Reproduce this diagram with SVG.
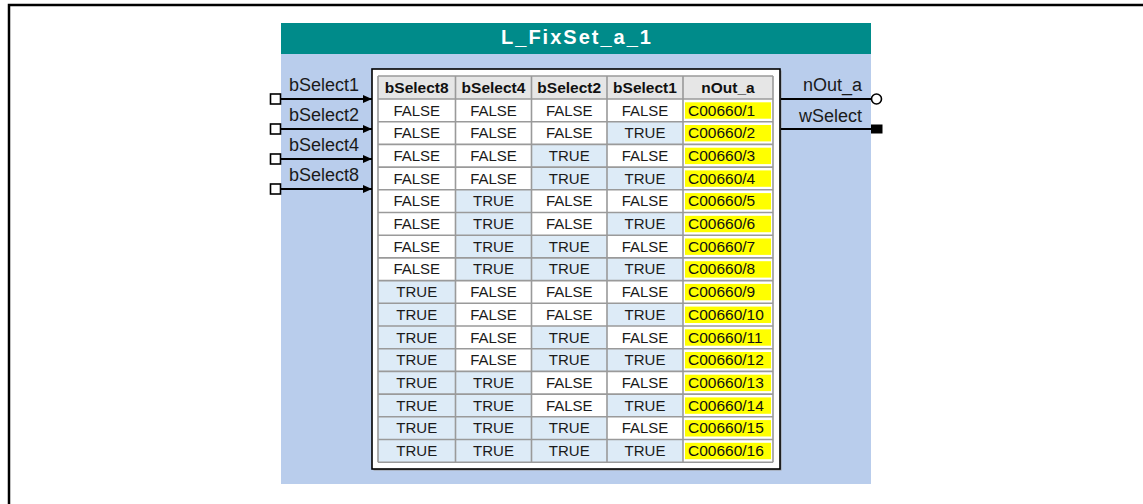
<svg xmlns="http://www.w3.org/2000/svg" width="1143" height="504" viewBox="0 0 1143 504">
<style>
.lbl{font-family:"Liberation Sans",Arial,sans-serif;font-size:18px;fill:#1a1a1a}
.title{font-family:"Liberation Sans",Arial,sans-serif;font-size:20px;font-weight:bold;fill:#fff;letter-spacing:2px}
.hd{font-family:"Liberation Sans",Arial,sans-serif;font-size:15.5px;font-weight:bold;fill:#111;text-anchor:middle}
.row text{font-family:"Liberation Sans",Arial,sans-serif;font-size:15px;fill:#1a1a1a;text-anchor:middle}
.row text.c{font-size:15.5px;text-anchor:start;fill:#111}
.F{fill:#ffffff}
.T{fill:#DDEBF7}
.Y{fill:#FFFF00}
.wire{stroke:#000;stroke-width:2;fill:none}
.grid{stroke:#9a9a9a;stroke-width:1.6;fill:none}
</style>
<defs>
<marker id="arr" markerUnits="userSpaceOnUse" markerWidth="9" markerHeight="8" refX="9" refY="4" orient="auto">
<path d="M0,0 L9,4 L0,8 z" fill="#000"/>
</marker>
</defs>
<rect width="1143" height="504" fill="#fff"/>
<path d="M9,504 V5 H1143" fill="none" stroke="#000" stroke-width="2.5"/>

<g id="block-L_FixSet_a_1">
<rect x="281" y="54" width="590" height="430" fill="#B9CDEC"/>
<rect x="281" y="23" width="590" height="31" fill="#008B8A"/>
<text class="title" x="577" y="44" text-anchor="middle">L_FixSet_a_1</text>
</g>

<g id="table">
<rect x="373.5" y="70.5" width="408" height="400" fill="#9a9a9a"/>
<rect x="372" y="69" width="408" height="400" fill="#fff" stroke="#000" stroke-width="1.6"/>
<rect x="378" y="76" width="395" height="23" fill="#E6E6E6"/>
<text class="hd" x="416.75" y="92.5">bSelect8</text>
<text class="hd" x="493.5" y="92.5">bSelect4</text>
<text class="hd" x="569.25" y="92.5">bSelect2</text>
<text class="hd" x="645" y="92.5">bSelect1</text>
<text class="hd" x="728" y="92.5">nOut_a</text>

<g class="row" transform="translate(0,99)"><rect class="F" x="378" width="77.5" height="22.7"/><rect class="F" x="455.5" width="76" height="22.7"/><rect class="F" x="531.5" width="75.5" height="22.7"/><rect class="F" x="607" width="76" height="22.7"/><rect class="Y" x="685" y="3.3" width="86" height="16.4"/><text x="416.75" y="16.5">FALSE</text><text x="493.5" y="16.5">FALSE</text><text x="569.25" y="16.5">FALSE</text><text x="645" y="16.5">FALSE</text><text class="c" x="688" y="16.5">C00660/1</text></g>
<g class="row" transform="translate(0,121.7)"><rect class="F" x="378" width="77.5" height="22.7"/><rect class="F" x="455.5" width="76" height="22.7"/><rect class="F" x="531.5" width="75.5" height="22.7"/><rect class="T" x="607" width="76" height="22.7"/><rect class="Y" x="685" y="3.3" width="86" height="16.4"/><text x="416.75" y="16.5">FALSE</text><text x="493.5" y="16.5">FALSE</text><text x="569.25" y="16.5">FALSE</text><text x="645" y="16.5">TRUE</text><text class="c" x="688" y="16.5">C00660/2</text></g>
<g class="row" transform="translate(0,144.4)"><rect class="F" x="378" width="77.5" height="22.7"/><rect class="F" x="455.5" width="76" height="22.7"/><rect class="T" x="531.5" width="75.5" height="22.7"/><rect class="F" x="607" width="76" height="22.7"/><rect class="Y" x="685" y="3.3" width="86" height="16.4"/><text x="416.75" y="16.5">FALSE</text><text x="493.5" y="16.5">FALSE</text><text x="569.25" y="16.5">TRUE</text><text x="645" y="16.5">FALSE</text><text class="c" x="688" y="16.5">C00660/3</text></g>
<g class="row" transform="translate(0,167.1)"><rect class="F" x="378" width="77.5" height="22.7"/><rect class="F" x="455.5" width="76" height="22.7"/><rect class="T" x="531.5" width="75.5" height="22.7"/><rect class="T" x="607" width="76" height="22.7"/><rect class="Y" x="685" y="3.3" width="86" height="16.4"/><text x="416.75" y="16.5">FALSE</text><text x="493.5" y="16.5">FALSE</text><text x="569.25" y="16.5">TRUE</text><text x="645" y="16.5">TRUE</text><text class="c" x="688" y="16.5">C00660/4</text></g>
<g class="row" transform="translate(0,189.8)"><rect class="F" x="378" width="77.5" height="22.7"/><rect class="T" x="455.5" width="76" height="22.7"/><rect class="F" x="531.5" width="75.5" height="22.7"/><rect class="F" x="607" width="76" height="22.7"/><rect class="Y" x="685" y="3.3" width="86" height="16.4"/><text x="416.75" y="16.5">FALSE</text><text x="493.5" y="16.5">TRUE</text><text x="569.25" y="16.5">FALSE</text><text x="645" y="16.5">FALSE</text><text class="c" x="688" y="16.5">C00660/5</text></g>
<g class="row" transform="translate(0,212.5)"><rect class="F" x="378" width="77.5" height="22.7"/><rect class="T" x="455.5" width="76" height="22.7"/><rect class="F" x="531.5" width="75.5" height="22.7"/><rect class="T" x="607" width="76" height="22.7"/><rect class="Y" x="685" y="3.3" width="86" height="16.4"/><text x="416.75" y="16.5">FALSE</text><text x="493.5" y="16.5">TRUE</text><text x="569.25" y="16.5">FALSE</text><text x="645" y="16.5">TRUE</text><text class="c" x="688" y="16.5">C00660/6</text></g>
<g class="row" transform="translate(0,235.2)"><rect class="F" x="378" width="77.5" height="22.7"/><rect class="T" x="455.5" width="76" height="22.7"/><rect class="T" x="531.5" width="75.5" height="22.7"/><rect class="F" x="607" width="76" height="22.7"/><rect class="Y" x="685" y="3.3" width="86" height="16.4"/><text x="416.75" y="16.5">FALSE</text><text x="493.5" y="16.5">TRUE</text><text x="569.25" y="16.5">TRUE</text><text x="645" y="16.5">FALSE</text><text class="c" x="688" y="16.5">C00660/7</text></g>
<g class="row" transform="translate(0,257.9)"><rect class="F" x="378" width="77.5" height="22.7"/><rect class="T" x="455.5" width="76" height="22.7"/><rect class="T" x="531.5" width="75.5" height="22.7"/><rect class="T" x="607" width="76" height="22.7"/><rect class="Y" x="685" y="3.3" width="86" height="16.4"/><text x="416.75" y="16.5">FALSE</text><text x="493.5" y="16.5">TRUE</text><text x="569.25" y="16.5">TRUE</text><text x="645" y="16.5">TRUE</text><text class="c" x="688" y="16.5">C00660/8</text></g>
<g class="row" transform="translate(0,280.6)"><rect class="T" x="378" width="77.5" height="22.7"/><rect class="F" x="455.5" width="76" height="22.7"/><rect class="F" x="531.5" width="75.5" height="22.7"/><rect class="F" x="607" width="76" height="22.7"/><rect class="Y" x="685" y="3.3" width="86" height="16.4"/><text x="416.75" y="16.5">TRUE</text><text x="493.5" y="16.5">FALSE</text><text x="569.25" y="16.5">FALSE</text><text x="645" y="16.5">FALSE</text><text class="c" x="688" y="16.5">C00660/9</text></g>
<g class="row" transform="translate(0,303.3)"><rect class="T" x="378" width="77.5" height="22.7"/><rect class="F" x="455.5" width="76" height="22.7"/><rect class="F" x="531.5" width="75.5" height="22.7"/><rect class="T" x="607" width="76" height="22.7"/><rect class="Y" x="685" y="3.3" width="86" height="16.4"/><text x="416.75" y="16.5">TRUE</text><text x="493.5" y="16.5">FALSE</text><text x="569.25" y="16.5">FALSE</text><text x="645" y="16.5">TRUE</text><text class="c" x="688" y="16.5">C00660/10</text></g>
<g class="row" transform="translate(0,326)"><rect class="T" x="378" width="77.5" height="22.7"/><rect class="F" x="455.5" width="76" height="22.7"/><rect class="T" x="531.5" width="75.5" height="22.7"/><rect class="F" x="607" width="76" height="22.7"/><rect class="Y" x="685" y="3.3" width="86" height="16.4"/><text x="416.75" y="16.5">TRUE</text><text x="493.5" y="16.5">FALSE</text><text x="569.25" y="16.5">TRUE</text><text x="645" y="16.5">FALSE</text><text class="c" x="688" y="16.5">C00660/11</text></g>
<g class="row" transform="translate(0,348.7)"><rect class="T" x="378" width="77.5" height="22.7"/><rect class="F" x="455.5" width="76" height="22.7"/><rect class="T" x="531.5" width="75.5" height="22.7"/><rect class="T" x="607" width="76" height="22.7"/><rect class="Y" x="685" y="3.3" width="86" height="16.4"/><text x="416.75" y="16.5">TRUE</text><text x="493.5" y="16.5">FALSE</text><text x="569.25" y="16.5">TRUE</text><text x="645" y="16.5">TRUE</text><text class="c" x="688" y="16.5">C00660/12</text></g>
<g class="row" transform="translate(0,371.4)"><rect class="T" x="378" width="77.5" height="22.7"/><rect class="T" x="455.5" width="76" height="22.7"/><rect class="F" x="531.5" width="75.5" height="22.7"/><rect class="F" x="607" width="76" height="22.7"/><rect class="Y" x="685" y="3.3" width="86" height="16.4"/><text x="416.75" y="16.5">TRUE</text><text x="493.5" y="16.5">TRUE</text><text x="569.25" y="16.5">FALSE</text><text x="645" y="16.5">FALSE</text><text class="c" x="688" y="16.5">C00660/13</text></g>
<g class="row" transform="translate(0,394.1)"><rect class="T" x="378" width="77.5" height="22.7"/><rect class="T" x="455.5" width="76" height="22.7"/><rect class="F" x="531.5" width="75.5" height="22.7"/><rect class="T" x="607" width="76" height="22.7"/><rect class="Y" x="685" y="3.3" width="86" height="16.4"/><text x="416.75" y="16.5">TRUE</text><text x="493.5" y="16.5">TRUE</text><text x="569.25" y="16.5">FALSE</text><text x="645" y="16.5">TRUE</text><text class="c" x="688" y="16.5">C00660/14</text></g>
<g class="row" transform="translate(0,416.8)"><rect class="T" x="378" width="77.5" height="22.7"/><rect class="T" x="455.5" width="76" height="22.7"/><rect class="T" x="531.5" width="75.5" height="22.7"/><rect class="F" x="607" width="76" height="22.7"/><rect class="Y" x="685" y="3.3" width="86" height="16.4"/><text x="416.75" y="16.5">TRUE</text><text x="493.5" y="16.5">TRUE</text><text x="569.25" y="16.5">TRUE</text><text x="645" y="16.5">FALSE</text><text class="c" x="688" y="16.5">C00660/15</text></g>
<g class="row" transform="translate(0,439.5)"><rect class="T" x="378" width="77.5" height="22.7"/><rect class="T" x="455.5" width="76" height="22.7"/><rect class="T" x="531.5" width="75.5" height="22.7"/><rect class="T" x="607" width="76" height="22.7"/><rect class="Y" x="685" y="3.3" width="86" height="16.4"/><text x="416.75" y="16.5">TRUE</text><text x="493.5" y="16.5">TRUE</text><text x="569.25" y="16.5">TRUE</text><text x="645" y="16.5">TRUE</text><text class="c" x="688" y="16.5">C00660/16</text></g>

<path class="grid" d="M378,76 V462.2 M455.5,76 V462.2 M531.5,76 V462.2 M607,76 V462.2 M683,76 V462.2 M773,76 V462.2
M378,76 H773 M378,99 H773 M378,121.7 H773 M378,144.4 H773 M378,167.1 H773 M378,189.8 H773 M378,212.5 H773 M378,235.2 H773 M378,257.9 H773 M378,280.6 H773 M378,303.3 H773 M378,326 H773 M378,348.7 H773 M378,371.4 H773 M378,394.1 H773 M378,416.8 H773 M378,439.5 H773 M378,462.2 H773"/>
</g>

<g id="in-bSelect1"><rect x="270.5" y="94" width="10" height="10" fill="#fff" stroke="#000" stroke-width="1.6"/><text class="lbl" x="289" y="90.5">bSelect1</text></g>
<g id="in-bSelect2"><rect x="270.5" y="124" width="10" height="10" fill="#fff" stroke="#000" stroke-width="1.6"/><text class="lbl" x="289" y="120.5">bSelect2</text></g>
<g id="in-bSelect4"><rect x="270.5" y="154" width="10" height="10" fill="#fff" stroke="#000" stroke-width="1.6"/><text class="lbl" x="289" y="150.5">bSelect4</text></g>
<g id="in-bSelect8"><rect x="270.5" y="184" width="10" height="10" fill="#fff" stroke="#000" stroke-width="1.6"/><text class="lbl" x="289" y="180.5">bSelect8</text></g>
<g id="out-nOut_a"><circle cx="876.5" cy="99" r="5" fill="#fff" stroke="#000" stroke-width="1.6"/><text class="lbl" x="862" y="90.5" text-anchor="end">nOut_a</text></g>
<g id="out-wSelect"><rect x="871" y="124.5" width="11.5" height="9" fill="#000"/><text class="lbl" x="862" y="121.5" text-anchor="end">wSelect</text></g>

<g id="connectors">
<path class="wire" d="M281,99 H372" marker-end="url(#arr)"/>
<path class="wire" d="M281,129 H372" marker-end="url(#arr)"/>
<path class="wire" d="M281,159 H372" marker-end="url(#arr)"/>
<path class="wire" d="M281,189 H372" marker-end="url(#arr)"/>
<path class="wire" d="M781,99 H871"/>
<path class="wire" d="M781,129 H871"/>
</g>
</svg>
